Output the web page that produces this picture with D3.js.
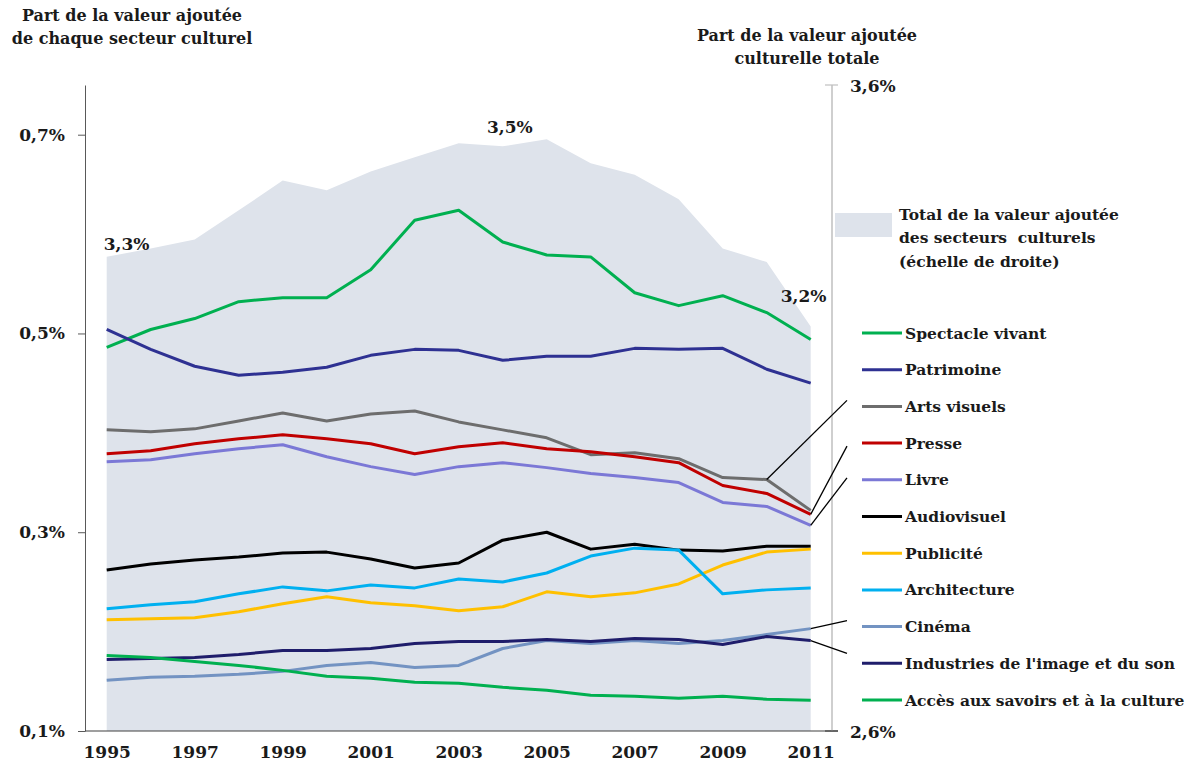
<!DOCTYPE html>
<html lang="fr">
<head>
<meta charset="UTF-8">
<title>Part de la valeur ajoutée culturelle</title>
<script src="https://d3js.org/d3.v7.min.js"></script>
<style>
  html, body { margin: 0; padding: 0; background: #fff; }
  svg { display: block; font-family: "DejaVu Serif", serif; font-weight: bold; }
</style>
</head>
<body>
<div id="chart"></div>
<script>
// years on the x axis
const years = d3.range(1995, 2012);
const yearTicks = [1995, 1997, 1999, 2001, 2003, 2005, 2007, 2009, 2011];

// total cultural value added (right scale, %)
const totalShare = [3.334, 3.347, 3.361, 3.406, 3.452, 3.437, 3.466, 3.488, 3.510,
                    3.505, 3.516, 3.479, 3.461, 3.423, 3.347, 3.326, 3.226];

// share of each sector (left scale, %)
const spectacleVivant = [0.486, 0.504, 0.515, 0.532, 0.536, 0.536, 0.564, 0.614, 0.624,
                         0.592, 0.579, 0.577, 0.541, 0.528, 0.538, 0.521, 0.494];
const patrimoine = [0.504, 0.484, 0.467, 0.458, 0.461, 0.466, 0.478, 0.484, 0.483,
                    0.473, 0.477, 0.477, 0.485, 0.484, 0.485, 0.464, 0.450];
const artsVisuels = [0.403, 0.401, 0.404, 0.412, 0.420, 0.412, 0.419, 0.422, 0.411,
                     0.403, 0.395, 0.378, 0.380, 0.374, 0.355, 0.353, 0.322];
const presse = [0.379, 0.382, 0.389, 0.394, 0.398, 0.394, 0.389, 0.379, 0.386,
                0.390, 0.384, 0.381, 0.376, 0.370, 0.347, 0.339, 0.318];
const livre = [0.371, 0.373, 0.379, 0.384, 0.388, 0.376, 0.366, 0.358, 0.366,
               0.370, 0.365, 0.359, 0.355, 0.350, 0.330, 0.326, 0.307];
const audiovisuel = [0.262, 0.268, 0.272, 0.275, 0.279, 0.280, 0.273, 0.264, 0.269,
                     0.292, 0.300, 0.283, 0.288, 0.282, 0.281, 0.286, 0.286];
const publicite = [0.212, 0.213, 0.214, 0.220, 0.228, 0.235, 0.229, 0.226, 0.221,
                   0.225, 0.240, 0.235, 0.239, 0.248, 0.267, 0.280, 0.283];
const architecture = [0.223, 0.227, 0.230, 0.238, 0.245, 0.241, 0.247, 0.244, 0.253,
                      0.250, 0.259, 0.276, 0.284, 0.282, 0.238, 0.242, 0.244];
const cinema = [0.151, 0.154, 0.155, 0.157, 0.160, 0.166, 0.169, 0.164, 0.166,
                0.183, 0.191, 0.188, 0.191, 0.188, 0.191, 0.197, 0.203];
const industries = [0.172, 0.173, 0.174, 0.177, 0.181, 0.181, 0.183, 0.188, 0.190,
                    0.190, 0.192, 0.190, 0.193, 0.192, 0.187, 0.195, 0.191];
const accesSavoirs = [0.176, 0.174, 0.170, 0.166, 0.161, 0.155, 0.153, 0.149, 0.148,
                      0.144, 0.141, 0.136, 0.135, 0.133, 0.135, 0.132, 0.131];

const seriesNames = ["Spectacle vivant", "Patrimoine", "Arts visuels", "Presse", "Livre",
  "Audiovisuel", "Publicité", "Architecture", "Cinéma",
  "Industries de l'image et du son", "Accès aux savoirs et à la culture"];
const seriesValues = [spectacleVivant, patrimoine, artsVisuels, presse, livre,
  audiovisuel, publicite, architecture, cinema, industries, accesSavoirs];
const seriesColors = ["#00b050", "#2e3192", "#6d6d6d", "#c00000", "#7b78d6",
  "#000000", "#ffc000", "#00b0f0", "#7393c2", "#1f1d6b", "#00b050"];

const leftTicks = [0.1, 0.3, 0.5, 0.7];
const rightTicks = [2.6, 3.6];
const areaLabels = [[1995, "3,3%"], [2005, "3,5%"], [2011, "3,2%"]];
// series pointed to by a leader line: [series index, year]
const leaders = [[2, 2010], [3, 2011], [4, 2011], [8, 2011], [9, 2011]];

const width = 1191, height = 766;
const svg = d3.select("#chart").append("svg")
  .attr("width", width).attr("height", height);

const x = d3.scaleLinear().domain([1995, 2011]).range([106.7, 810.7]);
const yL = d3.scaleLinear().domain([0.1, 0.75]).range([731, 85]);
const yR = d3.scaleLinear().domain([2.6, 3.6]).range([731, 85]);
const pct = d => d3.format(".1f")(d).replace(".", ",") + "%";

// total area
const area = d3.area().x((d, i) => x(years[i])).y0(yR(2.6)).y1(d => yR(d));
svg.append("path").datum(totalShare).attr("d", area).attr("fill", "#dee3eb");

// area value labels
const labelOffset = { 1995: [-3, -13, "start"], 2005: [-14, -12, "end"], 2011: [-30, -31, "start"] };
areaLabels.forEach(([yr, txt]) => {
  const o = labelOffset[yr];
  svg.append("text")
    .attr("x", x(yr) + o[0]).attr("y", yR(totalShare[years.indexOf(yr)]) + o[1])
    .attr("text-anchor", o[2]).attr("dominant-baseline", "central")
    .attr("font-size", 17).attr("fill", "#1a1a1a").text(txt);
});

// left axis
const gL = svg.append("g").attr("transform", `translate(85,0)`)
  .call(d3.axisLeft(yL).tickValues(leftTicks).tickSize(7).tickSizeOuter(0)
    .tickPadding(13).tickFormat(pct));
gL.select(".domain").attr("stroke", "#595959");
gL.selectAll(".tick line").attr("stroke", "#595959");
gL.selectAll(".tick text").attr("font-size", 17).attr("font-family", "DejaVu Serif")
  .attr("font-weight", "bold").attr("fill", "#1a1a1a");

// bottom axis
svg.append("line").attr("x1", 85).attr("x2", 838).attr("y1", 731).attr("y2", 731)
  .attr("stroke", "#404040").attr("stroke-width", 1.2);
const gB = svg.append("g").attr("transform", `translate(0,731)`)
  .call(d3.axisBottom(x).tickValues(yearTicks).tickSize(0).tickPadding(15).tickFormat(d3.format("d")));
gB.select(".domain").remove();
gB.selectAll(".tick text").attr("font-size", 17).attr("font-family", "DejaVu Serif")
  .attr("font-weight", "bold").attr("fill", "#1a1a1a");

// right axis
svg.append("line").attr("x1", 832).attr("x2", 832).attr("y1", yR(3.6)).attr("y2", yR(2.6))
  .attr("stroke", "#bfbfbf").attr("stroke-width", 1.5);
rightTicks.forEach(v => {
  svg.append("line").attr("x1", 825).attr("x2", 838).attr("y1", yR(v)).attr("y2", yR(v))
    .attr("stroke", v === 2.6 ? "#404040" : "#bfbfbf").attr("stroke-width", 1.2);
  svg.append("text").attr("x", 850).attr("y", yR(v) + 1).attr("dominant-baseline", "central")
    .attr("font-size", 17).attr("fill", "#1a1a1a").text(pct(v));
});

// sector lines
const line = d3.line().x((d, i) => x(years[i])).y(d => yL(d));
seriesValues.forEach((vals, k) => {
  svg.append("path").datum(vals).attr("d", line)
    .attr("fill", "none").attr("stroke", seriesColors[k])
    .attr("stroke-width", 3).attr("stroke-linejoin", "round");
});

// titles
const titles = [
  { x: 132, lines: ["Part de la valeur ajoutée", "de chaque secteur culturel"] },
  { x: 807, lines: ["Part de la valeur ajoutée", "culturelle totale"] }
];
titles.forEach((t, j) => {
  t.lines.forEach((s, i) => {
    svg.append("text").attr("x", t.x).attr("y", (j === 0 ? 15 : 35) + i * 23)
      .attr("text-anchor", "middle").attr("dominant-baseline", "central")
      .attr("font-size", 16).attr("fill", "#1a1a1a").text(s);
  });
});

// legend: area
svg.append("rect").attr("x", 835).attr("y", 213).attr("width", 57).attr("height", 24)
  .attr("fill", "#dee3eb");
["Total de la valeur ajoutée", "des secteurs  culturels", "(échelle de droite)"].forEach((s, i) => {
  svg.append("text").attr("x", 899).attr("y", 214 + i * 23.5).attr("dominant-baseline", "central")
    .attr("font-size", 15.5).attr("fill", "#1a1a1a").attr("xml:space", "preserve").text(s);
});

// legend: lines
const legY = i => 333 + i * 36.7;
seriesNames.forEach((name, i) => {
  svg.append("line").attr("x1", 862).attr("x2", 902).attr("y1", legY(i)).attr("y2", legY(i))
    .attr("stroke", seriesColors[i]).attr("stroke-width", 3);
  svg.append("text").attr("x", 905).attr("y", legY(i)).attr("dominant-baseline", "central")
    .attr("font-size", 15.5).attr("fill", "#1a1a1a").text(name);
});

// leader lines from the last points to the legend
const leaderEnd = { 2: -6, 3: 3, 4: -2, 8: -6, 9: -10 };
leaders.forEach(([k, yr]) => {
  const v = seriesValues[k][years.indexOf(yr)];
  svg.append("line")
    .attr("x1", x(yr)).attr("y1", yL(v))
    .attr("x2", 847).attr("y2", legY(k) + leaderEnd[k])
    .attr("stroke", "#000").attr("stroke-width", 1.3);
});
</script>
</body>
</html>
